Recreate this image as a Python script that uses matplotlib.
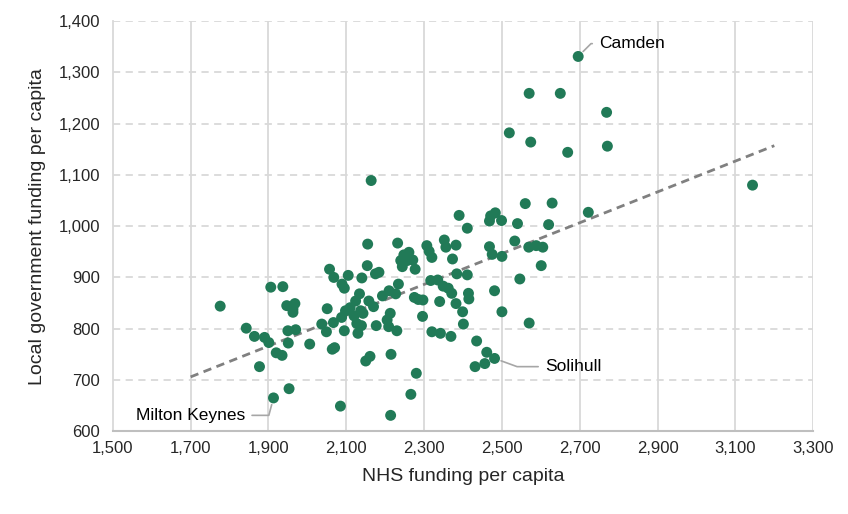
import matplotlib
matplotlib.use("Agg")
import matplotlib.pyplot as plt
import numpy as np

plt.rcParams['font.family'] = ['Liberation Sans', 'DejaVu Sans']

nhs = [1776, 1843, 1864, 1877, 1890, 1906, 1901, 1913, 1920, 1935, 1937, 1947, 1951, 1953,
       1963, 1968, 1963, 1950, 1970, 2006, 2037, 2051, 2057, 2049, 2068, 2064, 2070, 2067,
       2085, 2089, 2095, 2105, 2095, 2088, 2098, 2110, 2120, 2124, 2127, 2130, 2134, 2140,
       2137, 2143, 2139, 2150, 2155, 2161, 2154, 2164, 2158, 2175, 2177, 2170, 2184, 2193,
       2205, 2209, 2210, 2213, 2214, 2215, 2227, 2230, 2234, 2232, 2240, 2244, 2248, 2257,
       2261, 2271, 2277, 2275, 2280, 2266, 2285, 2297, 2296, 2307, 2313, 2320, 2317, 2320,
       2335, 2340, 2342, 2349, 2352, 2356, 2362, 2369, 2371, 2373, 2382, 2382, 2384, 2390,
       2399, 2401, 2411, 2411, 2414, 2415, 2431, 2435, 2456, 2461, 2468, 2468, 2471, 2481,
       2475, 2483, 2481, 2499, 2500, 2500, 2519, 2540, 2533, 2546, 2560, 2569, 2570, 2574,
       2570, 2588, 2605, 2601, 2620, 2629, 2650, 2669, 2696, 2722, 2769, 2771, 3144]
local = [844, 801, 785, 726, 783, 881, 773, 665, 753, 748, 882, 845, 772, 683,
         838, 849, 832, 796, 798, 770, 809, 839, 916, 794, 900, 760, 763, 812,
         649, 887, 879, 904, 796, 822, 835, 841, 825, 854, 810, 791, 868, 899,
         835, 830, 806, 737, 965, 746, 923, 1089, 854, 907, 806, 843, 910, 864,
         817, 804, 874, 830, 631, 750, 868, 796, 887, 967, 933, 921, 944, 933,
         949, 934, 916, 861, 713, 672, 857, 856, 824, 962, 951, 939, 894, 794,
         895, 853, 791, 883, 973, 959, 879, 785, 869, 936, 963, 849, 907, 1021,
         833, 809, 996, 905, 869, 858, 726, 776, 732, 754, 1010, 960, 1020, 742,
         945, 1026, 874, 1011, 941, 833, 1182, 1005, 971, 897, 1044, 959, 1259, 1164,
         811, 962, 959, 923, 1003, 1045, 1259, 1144, 1331, 1027, 1222, 1156, 1080]

trend_x = [1700, 3200]
trend_y = [706, 1157]

label_names = ["Camden", "Milton Keynes", "Solihull"]
label_points = [(2696, 1331), (1913, 665), (2481, 742)]
label_text_pos = [(2750, 1356), (1840, 631), (2611, 726)]

xticks = list(range(1500, 3301, 200))
yticks = list(range(600, 1401, 100))

fig = plt.figure(figsize=(8.48, 5.14), dpi=100)
ax = fig.add_axes([0.133, 0.161, 0.826, 0.798])

ax.set_xlim(1500, 3300)
ax.set_ylim(600, 1400)
ax.set_xticks(xticks)
ax.set_yticks(yticks)
ax.set_xticklabels([f"{v:,}" for v in xticks])
ax.set_yticklabels([f"{v:,}" for v in yticks])

for v in xticks[1:]:
    ax.axvline(v, color='#d9d9d9', lw=1.3, zorder=0)
for v in yticks[1:]:
    ax.axhline(v, color='#d9d9d9', lw=1.3, ls=(0, (4, 3)), zorder=0)

for s in ['top', 'right']:
    ax.spines[s].set_visible(False)
ax.spines['left'].set_color('#d9d9d9')
ax.spines['left'].set_linewidth(1.3)
ax.spines['bottom'].set_color('#bfbfbf')
ax.spines['bottom'].set_linewidth(1.5)
ax.tick_params(axis='both', length=0, labelsize=12, colors='#262626')
ax.tick_params(axis='x', pad=7)
ax.tick_params(axis='y', pad=9)

ax.plot(trend_x, trend_y, color='#808080', lw=2.0, ls=(0, (3, 2)), zorder=2)
ax.scatter(nhs, local, s=62, color='#217a57', edgecolors='none', zorder=3)

angles_b = [45, 75, 160]
has = ['left', 'right', 'left']
for name, (px, py), (tx, ty), ab, ha in zip(label_names, label_points, label_text_pos, angles_b, has):
    ax.annotate(name, xy=(px, py), xytext=(tx, ty), ha=ha, va='center',
                fontsize=12.5, color='#000000',
                arrowprops=dict(arrowstyle='-', color='#a6a6a6', lw=1.2,
                                shrinkA=3, shrinkB=5,
                                connectionstyle=f"angle,angleA=0,angleB={ab},rad=0"))

ax.set_xlabel("NHS funding per capita", fontsize=14, color='#262626', labelpad=9)
ax.set_ylabel("Local government funding per capita", fontsize=14, color='#262626', labelpad=9)

fig.savefig("out.png", dpi=100)
